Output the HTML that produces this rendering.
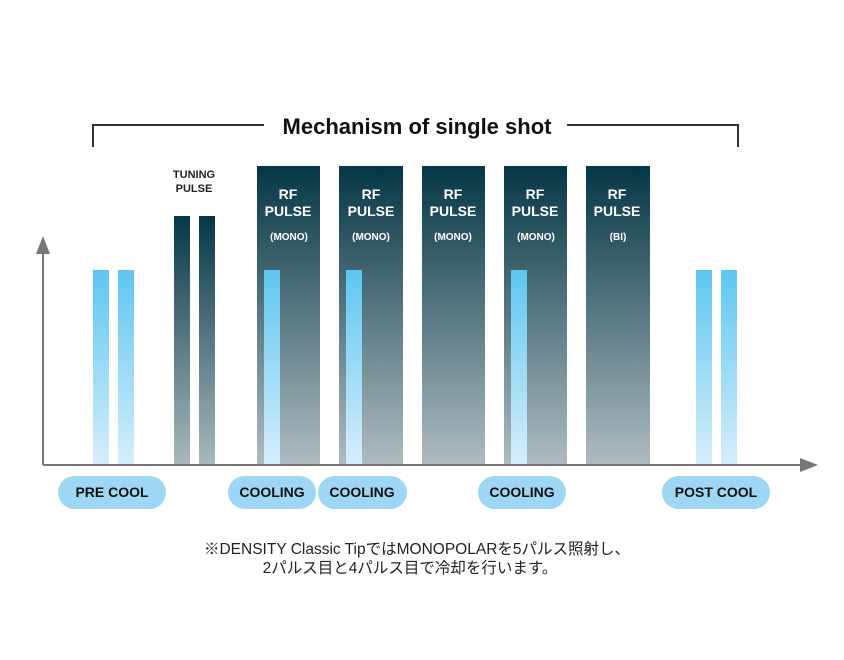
<!DOCTYPE html>
<html><head><meta charset="utf-8"><style>
body{margin:0;background:#fff;}
svg{display:block;font-family:"Liberation Sans","Noto Sans CJK JP",sans-serif;}
</style></head><body>
<svg width="844" height="660" viewBox="0 0 844 660" xmlns="http://www.w3.org/2000/svg">
<defs>
<linearGradient id="dk" x1="0" y1="0" x2="0" y2="1"><stop offset="0" stop-color="#053645"/><stop offset="1" stop-color="#aebcc0"/></linearGradient>
<linearGradient id="dk2" x1="0" y1="0" x2="0" y2="1"><stop offset="0" stop-color="#063746"/><stop offset="1" stop-color="#a9b9bd"/></linearGradient>
<linearGradient id="lb" x1="0" y1="0" x2="0" y2="1"><stop offset="0" stop-color="#5ec6f0"/><stop offset="1" stop-color="#d6eefb"/></linearGradient>
</defs>
<path d="M93 147 V125 H264 M567 125 H738 V147" fill="none" stroke="#333" stroke-width="2"/>
<text x="417" y="134" text-anchor="middle" font-size="22" font-weight="bold" fill="#111">Mechanism of single shot</text>
<g fill="url(#dk)">
<rect x="257" y="166" width="63" height="299"/><rect x="339" y="166" width="64" height="299"/>
<rect x="422" y="166" width="63" height="299"/><rect x="504" y="166" width="63" height="299"/>
<rect x="586" y="166" width="64" height="299"/>
</g>
<g fill="url(#dk2)"><rect x="174" y="216" width="16" height="249"/><rect x="199" y="216" width="16" height="249"/></g>
<g fill="url(#lb)">
<rect x="93" y="270" width="16" height="195"/><rect x="118" y="270" width="16" height="195"/>
<rect x="264" y="270" width="16" height="195"/><rect x="346" y="270" width="16" height="195"/>
<rect x="511" y="270" width="16" height="195"/>
<rect x="696" y="270" width="16" height="195"/><rect x="721" y="270" width="16" height="195"/>
</g>
<text x="194" y="178" text-anchor="middle" font-size="11" font-weight="bold" fill="#222">TUNING</text>
<text x="194" y="192" text-anchor="middle" font-size="11" font-weight="bold" fill="#222">PULSE</text>
<g fill="#fff" font-weight="bold" text-anchor="middle">
<g font-size="14">
<text x="288" y="199">RF</text><text x="288" y="216">PULSE</text>
<text x="371" y="199">RF</text><text x="371" y="216">PULSE</text>
<text x="453" y="199">RF</text><text x="453" y="216">PULSE</text>
<text x="535" y="199">RF</text><text x="535" y="216">PULSE</text>
<text x="617" y="199">RF</text><text x="617" y="216">PULSE</text>
</g>
<g font-size="10">
<text x="289" y="240">(MONO)</text><text x="371" y="240">(MONO)</text><text x="453" y="240">(MONO)</text><text x="536" y="240">(MONO)</text><text x="618" y="240">(BI)</text>
</g></g>
<path d="M43 465 V250 M43 465 H805" stroke="#777" stroke-width="2" fill="none"/>
<path d="M36 254 L43 236 L50 254 Z" fill="#777"/>
<path d="M800 458 L818 465 L800 472 Z" fill="#777"/>
<g fill="#9dd7f3">
<rect x="58" y="476" width="108" height="33" rx="16.5"/>
<rect x="228" y="476" width="88" height="33" rx="16.5"/>
<rect x="318" y="476" width="89" height="33" rx="16.5"/>
<rect x="478" y="476" width="88" height="33" rx="16.5"/>
<rect x="662" y="476" width="108" height="33" rx="16.5"/>
</g>
<g font-size="14" font-weight="bold" fill="#111" text-anchor="middle">
<text x="112" y="497">PRE COOL</text><text x="272" y="497">COOLING</text><text x="362" y="497">COOLING</text>
<text x="522" y="497">COOLING</text><text x="716" y="497">POST COOL</text>
</g>
<g font-size="15.5" fill="#222" text-anchor="middle">
<text x="417" y="554">※DENSITY Classic TipではMONOPOLARを5パルス照射し、</text>
<text x="410" y="573">2パルス目と4パルス目で冷却を行います。</text>
</g>
</svg>
</body></html>
